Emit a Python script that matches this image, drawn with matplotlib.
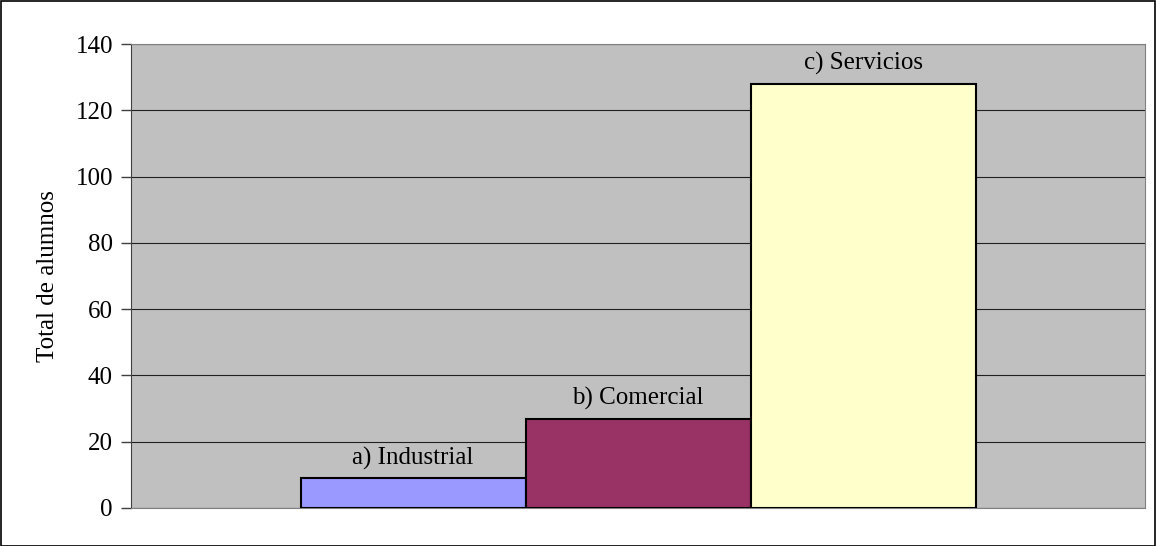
import matplotlib
matplotlib.use('Agg')
import matplotlib.pyplot as plt
from matplotlib.patches import Rectangle

labels = ['a) Industrial', 'b) Comercial', 'c) Servicios']
values = [9, 27, 128]
colors = ['#9999FF', '#993366', '#FFFFCC']
yticks = [0, 20, 40, 60, 80, 100, 120, 140]

plt.rcParams['font.family'] = ['Liberation Serif', 'DejaVu Serif']

fig = plt.figure(figsize=(11.56, 5.46), dpi=100)
ax = fig.add_axes([131 / 1156, 1 - 508 / 546, (1145 - 131) / 1156, (508 - 44) / 546])
ax.set_facecolor('#C0C0C0')

x = list(range(len(values)))
bars = ax.bar(x, values, width=1.0, color=colors, edgecolor='black', linewidth=1.5, zorder=3)
for b, lab in zip(bars, labels):
    ax.annotate(lab, (b.get_x() + b.get_width() / 2, b.get_height()),
                xytext=(0, 6), textcoords='offset points', ha='center', va='bottom',
                fontsize=18, zorder=4)

gap = 169.5 / 225
ax.set_xlim(-0.5 - gap, len(values) - 0.5 + gap)
ax.set_ylim(0, 140)
ax.set_yticks(yticks)
ax.set_xticks([])
ax.yaxis.grid(True, color='#202020', linewidth=0.8, zorder=1)
ax.tick_params(axis='y', direction='out', length=7, width=1, color='#404040', labelsize=18, pad=6)
ax.set_ylabel('Total de alumnos', fontsize=18, labelpad=12)

for side in ['top', 'right', 'bottom']:
    ax.spines[side].set_color('#808080')
ax.spines['left'].set_color('#404040')

# outer frame
fig.patches.append(Rectangle((0.5 / 1156, 0.5 / 546), 1 - 1.5 / 1156, 1 - 1.5 / 546,
                             transform=fig.transFigure, fill=False, edgecolor='black',
                             linewidth=1.2))

fig.savefig('out.png', dpi=100)
